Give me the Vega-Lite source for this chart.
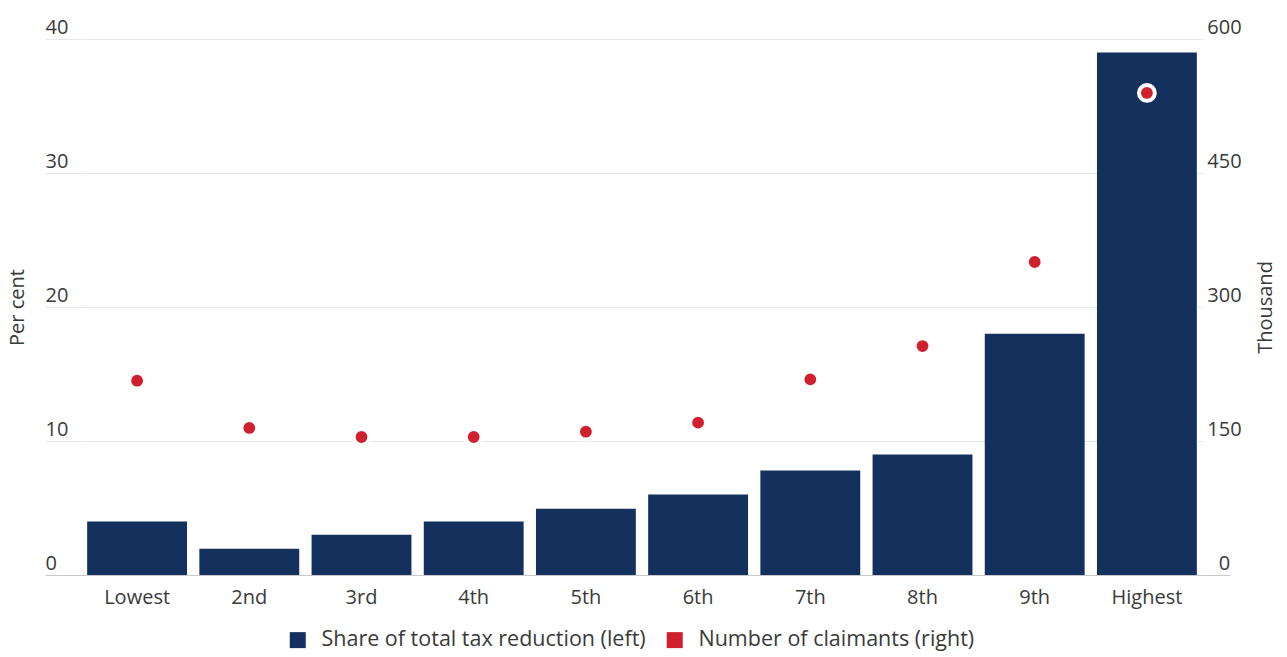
{
  "$schema": "https://vega.github.io/schema/vega-lite/v6.json",
  "width": 1122,
  "height": 536,
  "autosize": {"type": "none"},
  "padding": {"left": 81, "top": 39, "right": 84, "bottom": 82},
  "config": {
    "font": "Open Sans",
    "view": {"stroke": null},
    "axis": {"labelFont": "Open Sans", "titleFont": "Open Sans", "labelColor": "#3a3a3a", "titleColor": "#3a3a3a", "titleFontWeight": "normal"}
  },
  "data": {
    "values": [
      {"decile": "Lowest", "share": 4.0, "claimants": 217.5},
      {"decile": "2nd", "share": 1.95, "claimants": 164.6},
      {"decile": "3rd", "share": 3.0, "claimants": 154.5},
      {"decile": "4th", "share": 4.0, "claimants": 154.5},
      {"decile": "5th", "share": 4.95, "claimants": 160.4},
      {"decile": "6th", "share": 6.0, "claimants": 170.5},
      {"decile": "7th", "share": 7.8, "claimants": 219},
      {"decile": "8th", "share": 9.0, "claimants": 256.3},
      {"decile": "9th", "share": 18.0, "claimants": 350.4},
      {"decile": "Highest", "share": 39.0, "claimants": 539.6}
    ]
  },
  "encoding": {
    "x": {
      "field": "decile",
      "type": "nominal",
      "sort": null,
      "scale": {"paddingInner": 0.11, "paddingOuter": 0.055},
      "axis": {"title": null, "labelAngle": 0, "ticks": false, "domainColor": "#c8c8c8", "labelFontSize": 20, "labelPadding": 12}
    }
  },
  "layer": [
    {
      "mark": {"type": "bar", "color": "#14305c"},
      "encoding": {
        "y": {
          "field": "share",
          "type": "quantitative",
          "scale": {"domain": [0, 40], "nice": false},
          "axis": {
            "title": "Per cent",
            "titleFontSize": 20,
            "titleAngle": 270,
            "titleX": -64,
            "titleY": 268,
            "titleAlign": "center",
            "titleBaseline": "middle",
            "values": [0, 10, 20, 30, 40],
            "grid": true,
            "gridColor": "#e8e8e8",
            "domain": false,
            "tickSize": 36,
            "tickColor": {"expr": "datum.value === 0 ? '#c8c8c8' : '#e8e8e8'"},
            "labelAlign": "left",
            "labelBaseline": "alphabetic",
            "labelOffset": -6,
            "labelPadding": 0,
            "labelFontSize": 20
          }
        },
        "color": {
          "datum": "Share of total tax reduction (left)",
          "type": "nominal",
          "scale": {"domain": ["Share of total tax reduction (left)", "Number of claimants (right)"], "range": ["#14305c", "#d0202e"]},
          "legend": {
            "title": null,
            "orient": "none",
            "legendX": 206,
            "legendY": 590,
            "direction": "horizontal",
            "symbolType": "square",
            "symbolSize": 256,
            "symbolStrokeWidth": 0,
            "symbolOpacity": 1,
            "labelFontSize": 21.5,
            "labelLimit": 0,
            "labelColor": "#3a3a3a",
            "labelOffset": 13,
            "columnPadding": 18
          }
        }
      }
    },
    {
      "mark": {"type": "point", "filled": true, "shape": "circle", "size": 250, "stroke": "white", "strokeWidth": 4, "opacity": 1},
      "encoding": {
        "y": {
          "field": "claimants",
          "type": "quantitative",
          "scale": {"domain": [0, 600], "nice": false},
          "axis": {
            "orient": "right",
            "title": "Thousand",
            "titleFontSize": 20,
            "titleAngle": 270,
            "titleX": 62,
            "titleY": 268,
            "titleAlign": "center",
            "titleBaseline": "middle",
            "values": [0, 150, 300, 450, 600],
            "grid": false,
            "domain": false,
            "tickSize": 27,
            "tickColor": {"expr": "datum.value === 0 ? '#c8c8c8' : 'transparent'"},
            "labelAlign": "center",
            "labelBaseline": "alphabetic",
            "labelOffset": -6,
            "labelPadding": -6,
            "labelFontSize": 20
          }
        },
        "color": {"datum": "Number of claimants (right)", "type": "nominal"}
      }
    }
  ],
  "resolve": {"scale": {"y": "independent"}}
}
